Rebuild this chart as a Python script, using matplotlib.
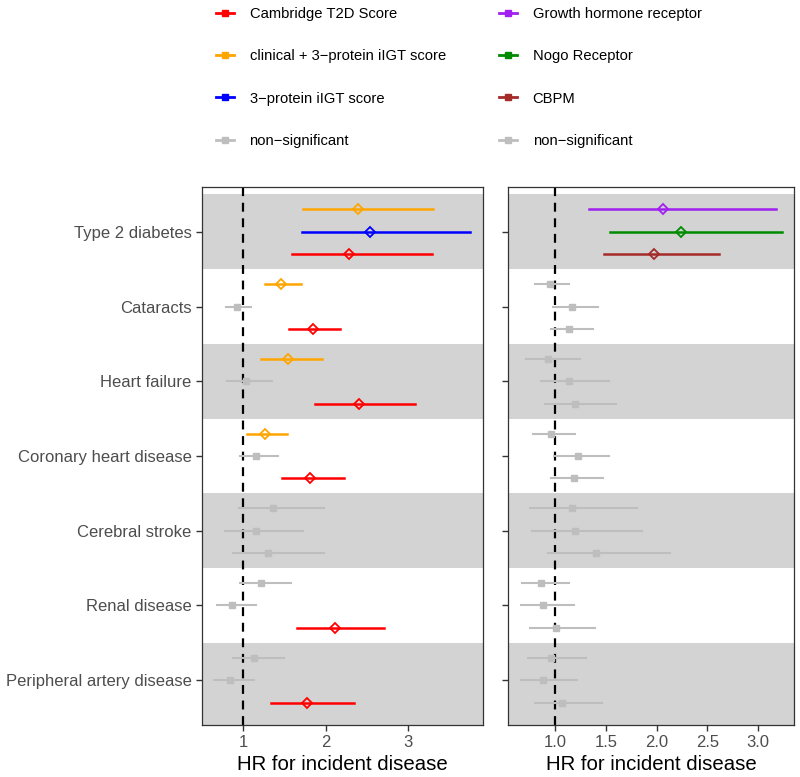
import numpy as np
import matplotlib
matplotlib.use("Agg")
import matplotlib.pyplot as plt
from matplotlib.lines import Line2D

plt.rcParams['font.family'] = ['Liberation Sans', 'DejaVu Sans']

diseases = ["Type 2 diabetes", "Cataracts", "Heart failure", "Coronary heart disease",
            "Cerebral stroke", "Renal disease", "Peripheral artery disease"]

# left panel: risk scores (rows top-to-bottom within each disease)
clin_hr = [2.40, 1.46, 1.55, 1.27, 1.36, 1.22, 1.13]
clin_lo = [1.73, 1.26, 1.22, 1.05, 0.95, 0.96, 0.88]
clin_hi = [3.31, 1.70, 1.96, 1.53, 1.98, 1.58, 1.49]
clin_sig = [1, 1, 1, 1, 0, 0, 0]

prot_hr = [2.54, 0.92, 1.03, 1.15, 1.15, 0.87, 0.84]
prot_lo = [1.72, 0.79, 0.80, 0.96, 0.78, 0.68, 0.64]
prot_hi = [3.76, 1.10, 1.35, 1.42, 1.73, 1.15, 1.13]
prot_sig = [1, 0, 0, 0, 0, 0, 0]

camb_hr = [2.29, 1.85, 2.41, 1.81, 1.30, 2.11, 1.77]
camb_lo = [1.59, 1.56, 1.87, 1.47, 0.88, 1.65, 1.34]
camb_hi = [3.29, 2.18, 3.09, 2.22, 1.98, 2.71, 2.34]
camb_sig = [1, 1, 1, 1, 0, 1, 1]

# right panel: single proteins
ghr_hr = [2.06, 0.95, 0.93, 0.96, 1.16, 0.86, 0.96]
ghr_lo = [1.33, 0.80, 0.71, 0.78, 0.75, 0.67, 0.73]
ghr_hi = [3.18, 1.14, 1.24, 1.19, 1.81, 1.14, 1.30]
ghr_sig = [1, 0, 0, 0, 0, 0, 0]

nogo_hr = [2.24, 1.16, 1.14, 1.22, 1.19, 0.88, 0.88]
nogo_lo = [1.54, 0.98, 0.86, 0.99, 0.77, 0.66, 0.66]
nogo_hi = [3.24, 1.42, 1.53, 1.53, 1.86, 1.18, 1.21]
nogo_sig = [1, 0, 0, 0, 0, 0, 0]

cbpm_hr = [1.97, 1.14, 1.19, 1.18, 1.40, 1.01, 1.07]
cbpm_lo = [1.48, 0.96, 0.90, 0.96, 0.93, 0.75, 0.80]
cbpm_hi = [2.62, 1.37, 1.60, 1.47, 2.13, 1.39, 1.46]
cbpm_sig = [1, 0, 0, 0, 0, 0, 0]

GRAY = "#BEBEBE"
left_series = [
    ("clinical + 3\u2212protein iIGT score", "#FFA500", clin_hr, clin_lo, clin_hi, clin_sig),
    ("3\u2212protein iIGT score", "#0000FF", prot_hr, prot_lo, prot_hi, prot_sig),
    ("Cambridge T2D Score", "#FF0000", camb_hr, camb_lo, camb_hi, camb_sig),
]
right_series = [
    ("Growth hormone receptor", "#A020F0", ghr_hr, ghr_lo, ghr_hi, ghr_sig),
    ("Nogo Receptor", "#008B00", nogo_hr, nogo_lo, nogo_hi, nogo_sig),
    ("CBPM", "#A52A2A", cbpm_hr, cbpm_lo, cbpm_hi, cbpm_sig),
]
offsets = [0.3, 0.0, -0.3]


def draw_panel(ax, series, xlim):
    n = len(diseases)
    ypos = np.arange(n, 0, -1)
    for i, y in enumerate(ypos):
        if i % 2 == 0:
            y0 = y - 0.5 if i < n - 1 else 0.4
            ax.axhspan(y0, y + 0.5, color="#D3D3D3", lw=0, zorder=0)
    ax.axvline(1, color="black", ls=(0, (4, 3)), lw=1.6, zorder=1)
    for (name, col, hr, lo, hi, sig), off in zip(series, offsets):
        for i, y in enumerate(ypos):
            yy = y + off
            if sig[i]:
                ax.plot([lo[i], hi[i]], [yy, yy], color=col, lw=1.8, zorder=3)
                ax.plot(hr[i], yy, marker="D", ms=5.0, mfc="none", mec=col, mew=1.3, zorder=4)
            else:
                ax.plot([lo[i], hi[i]], [yy, yy], color=GRAY, lw=1.5, zorder=2)
                ax.plot(hr[i], yy, marker="s", ms=4.0, color=GRAY, zorder=2)
    ax.set_xlim(*xlim)
    ax.set_ylim(0.4, n + 0.6)
    ax.set_yticks(ypos)
    for s in ax.spines.values():
        s.set_color("#333333")
        s.set_linewidth(0.9)
    ax.tick_params(axis="both", colors="#333333", labelcolor="#4D4D4D", labelsize=12,
                   length=4, width=1.0)
    ax.set_xlabel("HR for incident disease", fontsize=14.7, color="black", labelpad=3)


fig = plt.figure(figsize=(8, 7.77), dpi=100)
ax1 = fig.add_axes([0.2525, 0.0669, 0.351, 0.6924])
ax2 = fig.add_axes([0.635, 0.0669, 0.3575, 0.6924])

draw_panel(ax1, left_series, (0.5, 3.91))
ax1.set_xticks([1, 2, 3])
ax1.set_yticklabels(diseases)

draw_panel(ax2, right_series, (0.533, 3.356))
ax2.set_xticks([1.0, 1.5, 2.0, 2.5, 3.0])
ax2.set_xticklabels(["1.0", "1.5", "2.0", "2.5", "3.0"])
ax2.set_yticklabels([])


def legend_handles(series, order):
    hs, ls = [], []
    for k in order:
        name, col = series[k][0], series[k][1]
        hs.append(Line2D([], [], color=col, lw=2, marker="s", ms=4.0))
        ls.append(name)
    hs.append(Line2D([], [], color=GRAY, lw=2, marker="s", ms=4.0))
    ls.append("non\u2212significant")
    return hs, ls


h, l = legend_handles(left_series, [2, 0, 1])
leg1 = fig.legend(h, l, loc="upper left", bbox_to_anchor=(0.253, 1.008), frameon=False,
                  fontsize=10.6, labelspacing=1.92, handlelength=1.25, handletextpad=1.05)
h, l = legend_handles(right_series, [0, 1, 2])
leg2 = fig.legend(h, l, loc="upper left", bbox_to_anchor=(0.607, 1.008), frameon=False,
                  fontsize=10.6, labelspacing=1.92, handlelength=1.25, handletextpad=1.05)

fig.savefig("out.png", dpi=100)
